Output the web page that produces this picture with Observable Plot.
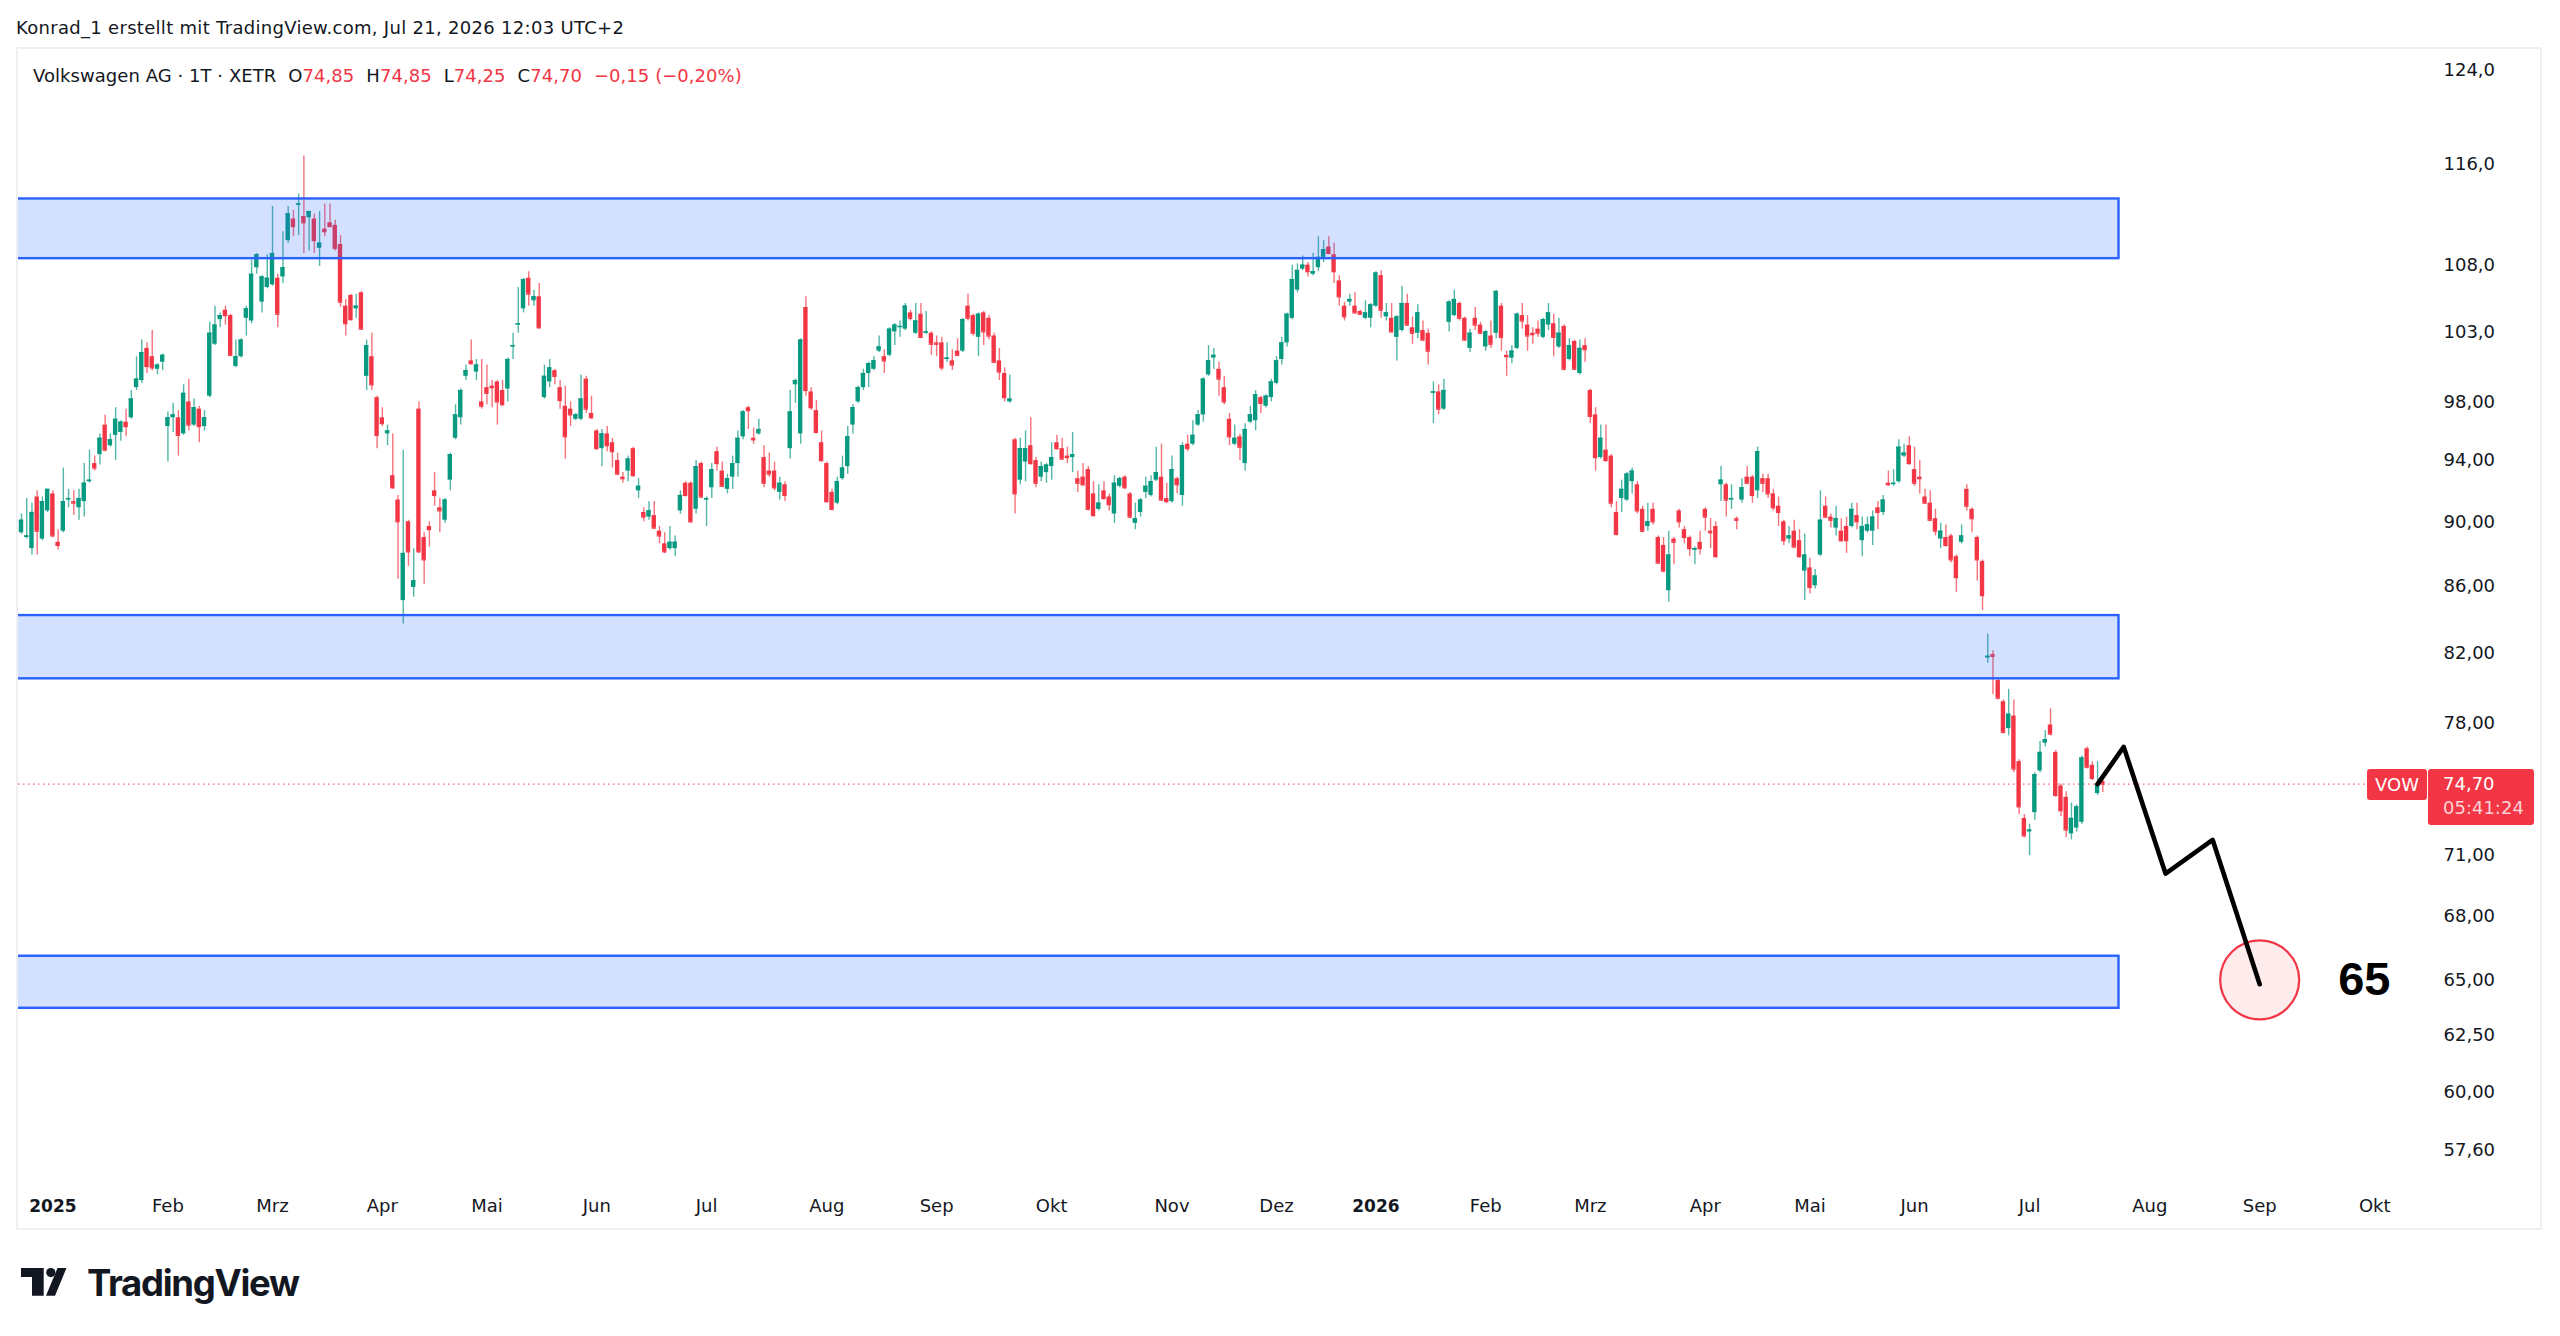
<!DOCTYPE html>
<html><head><meta charset="utf-8">
<script src="https://cdn.jsdelivr.net/npm/d3@7"></script>
<script src="https://cdn.jsdelivr.net/npm/@observablehq/plot@0.6"></script>
<style>
body{margin:0;background:#fff;}
#page{position:relative;width:2560px;height:1336px;overflow:hidden;font-family:"DejaVu Sans",sans-serif;color:#131722;}
#hdr{position:absolute;left:16px;top:17px;font-size:18px;line-height:22px;white-space:nowrap;letter-spacing:0.3px;}
#panel{position:absolute;left:16px;top:47px;width:2526px;height:1183px;border:2px solid #eef0f3;box-sizing:border-box;overflow:hidden;background:#fff;}
#panel svg{position:absolute;left:0;top:0;}
#legend{position:absolute;left:15px;top:16px;font-size:18px;line-height:22px;white-space:nowrap;letter-spacing:0.05px;}
#legend .v{color:#f23645;}
#legend .g{margin-left:12px;}
.lbl{position:absolute;color:#fff;font-size:18px;border-radius:3px;background:#f23645;white-space:nowrap;}
#logo{position:absolute;left:20px;top:1263px;height:40px;}
#logo svg{position:absolute;left:0.7px;top:5px;}
#logo span{position:absolute;left:67px;top:1px;font-family:Inter,sans-serif;font-weight:700;font-size:36.5px;line-height:38px;letter-spacing:-1.3px;color:#131722;}
</style></head>
<body><div id="page">
<div id="hdr">Konrad_1 erstellt mit TradingView.com, Jul 21, 2026 12:03 UTC+2</div>
<div id="panel">
  <div id="legend">Volkswagen AG · 1T · XETR<span class="g">O</span><span class="v">74,85</span><span class="g">H</span><span class="v">74,85</span><span class="g">L</span><span class="v">74,25</span><span class="g">C</span><span class="v">74,70</span><span class="g v">−0,15 (−0,20%)</span></div>
</div>
<div id="logo"><svg width="46" height="28" viewBox="0 0 46 28"><path d="M0,0H22.7V27.7H11V9H0Z" fill="#131722"/><circle cx="29.8" cy="4.6" r="4.6" fill="#131722"/><path d="M36.5,0H45.5L34,27.7H25Z" fill="#131722"/></svg><span>TradingView</span></div>
</div>
<script>
const opens = [
89.3,89.0,88.3,91.6,88.9,90.7,91.8,88.7,89.4,91.4,91.3,90.9,91.3,92.6,93.8,94.4,96.4,95.0,95.7,95.9,
96.6,96.9,99.0,99.5,101.8,101.2,100.3,100.8,96.3,96.9,96.9,95.8,98.0,96.4,97.5,96.3,98.4,102.1,103.9,104.6,
104.2,100.5,101.2,104.0,103.8,107.8,105.2,106.3,106.5,107.0,107.1,109.9,111.6,112.7,111.8,111.7,111.6,109.3,110.8,111.3,
111.1,109.6,104.9,105.7,104.7,105.9,99.8,101.2,98.3,96.9,95.8,93.0,91.4,85.1,90.0,85.9,97.5,89.0,89.7,92.0,
90.9,90.1,92.7,95.5,96.9,99.8,100.9,100.1,98.0,99.0,99.1,99.4,98.8,98.9,101.9,103.5,104.7,107.0,105.3,105.6,
98.3,99.4,100.2,99.0,97.7,97.5,96.8,96.8,99.6,97.2,96.0,94.8,95.8,95.2,94.0,92.9,93.3,94.8,92.0,90.6,
90.3,90.4,89.4,88.6,88.3,88.3,90.7,92.5,92.5,90.8,93.8,91.4,92.2,94.6,93.3,92.1,92.9,93.8,95.6,97.6,
95.5,95.8,94.2,93.3,93.3,91.9,92.4,94.8,99.2,95.8,104.8,98.7,97.4,95.2,93.8,91.9,91.2,92.8,93.6,96.4,
98.0,99.0,100.0,100.3,101.6,101.2,101.3,103.0,103.3,103.2,104.4,102.9,104.3,102.9,102.9,102.2,102.2,101.0,100.9,101.6,
101.6,104.9,104.2,102.6,104.4,104.0,102.7,100.9,100.0,98.0,95.4,92.7,93.9,95.0,94.0,92.9,93.2,93.6,95.2,94.8,
94.3,94.2,92.8,92.9,93.4,91.8,90.8,92.0,91.6,90.5,92.3,92.9,91.8,89.9,90.6,91.9,91.7,92.7,92.9,91.5,
91.3,92.8,91.7,95.1,95.1,96.4,97.1,99.9,101.1,100.3,99.0,96.8,95.1,95.6,93.8,96.6,96.7,98.3,97.7,98.3,
99.3,101.0,102.2,104.0,106.1,107.7,108.0,107.3,107.8,108.6,109.4,108.8,106.8,104.9,105.2,104.9,104.5,104.0,104.0,104.9,
107.2,104.1,104.0,102.6,103.1,105.1,103.3,102.9,103.1,102.9,98.6,98.7,97.5,103.7,104.2,105.1,104.0,101.8,104.0,103.5,
101.9,102.7,102.9,104.9,101.3,101.1,101.8,104.2,103.5,102.9,103.2,102.6,103.5,103.6,101.9,103.4,101.0,102.3,100.0,102.0,
98.8,97.1,94.2,94.7,94.3,90.6,91.5,91.4,92.6,92.4,90.8,89.7,90.8,89.0,88.5,85.7,88.9,90.7,89.5,89.0,
88.2,88.7,90.8,89.4,89.7,92.4,92.4,91.4,90.2,91.4,92.9,92.9,92.0,92.8,92.8,91.8,91.0,90.0,88.9,89.4,
88.8,86.9,87.1,86.0,87.9,91.0,90.3,89.6,89.4,89.7,89.7,90.4,88.8,89.4,89.4,90.9,90.6,92.5,92.4,92.6,
94.3,95.0,93.4,92.9,91.6,91.2,90.2,88.9,89.0,89.1,87.8,88.7,92.1,90.8,89.0,87.5,81.7,81.9,80.4,79.2,
77.7,78.4,75.9,72.9,72.2,73.2,75.4,76.9,77.9,76.4,74.6,74.0,72.1,72.4,72.7,76.6,75.7,74.2,74.85];
const highs = [
90.5,91.5,91.2,92.0,91.6,92.1,92.0,89.5,93.5,92.1,92.0,92.1,93.8,94.7,94.3,95.8,97.1,95.8,97.6,96.7,
97.5,98.8,101.2,102.4,102.2,103.1,100.7,101.4,97.3,97.9,97.4,99.2,99.6,98.2,97.7,97.4,103.7,104.9,104.4,104.9,
104.3,102.4,102.5,104.9,108.4,108.9,107.2,108.8,112.6,107.3,110.6,112.6,112.3,113.6,116.7,112.2,112.0,112.2,112.8,112.8,
111.5,110.3,105.4,105.8,105.8,106.0,102.4,102.9,98.4,97.6,96.4,95.8,91.7,94.7,90.1,88.3,98.0,89.3,90.0,93.2,
91.5,91.5,94.5,97.8,98.9,100.6,102.4,101.0,101.0,100.6,99.5,99.5,99.5,101.1,102.9,106.3,107.0,107.5,106.1,106.6,
100.6,101.0,100.3,99.5,99.1,98.0,97.2,99.9,99.8,98.4,96.1,96.1,96.3,95.5,94.5,93.2,94.3,94.9,92.8,90.9,
91.3,91.3,89.7,89.3,89.7,89.1,92.0,92.6,92.6,94.0,93.9,91.6,93.8,94.9,93.9,93.1,94.3,96.0,97.4,97.7,
96.2,96.8,95.0,94.5,93.9,92.9,92.6,98.8,99.6,102.5,105.6,99.0,98.1,96.0,93.9,92.1,92.9,94.3,96.3,97.8,
99.1,100.3,100.8,101.2,102.7,101.7,103.3,103.6,103.8,105.1,104.6,105.1,105.1,104.5,103.0,102.7,102.6,102.2,101.7,102.5,
104.0,105.8,104.3,104.4,104.5,104.2,102.9,101.8,100.4,99.9,95.5,95.5,96.0,96.9,94.2,93.9,93.8,95.2,95.7,95.5,
94.9,95.9,93.3,93.8,93.6,92.6,92.4,92.6,91.8,93.0,92.9,93.0,91.9,91.2,91.5,92.9,93.0,94.9,95.1,92.5,
94.3,92.9,95.2,95.7,96.7,97.4,99.7,102.0,101.8,100.8,99.8,97.2,96.4,95.8,96.5,97.7,98.8,98.4,98.5,99.6,
101.2,102.6,104.4,108.0,108.1,108.7,108.2,108.9,110.2,109.9,110.2,109.7,107.2,105.2,105.8,105.9,104.6,105.3,105.1,107.5,
107.6,105.1,105.1,104.2,106.4,105.8,104.1,105.0,103.8,103.2,99.4,99.2,99.6,105.3,106.1,105.2,104.1,103.2,104.8,103.7,
103.1,103.8,106.1,105.1,101.6,102.0,104.4,105.1,104.2,103.3,103.8,104.0,105.1,104.3,104.0,103.5,102.5,102.4,102.4,102.5,
98.9,97.6,96.4,96.4,94.4,91.3,92.7,93.2,93.5,92.6,91.0,91.2,91.2,89.1,89.0,89.4,89.0,90.8,89.7,89.1,
88.4,89.4,90.9,90.2,90.0,93.6,92.5,92.4,90.3,92.8,93.6,93.0,94.9,93.1,93.1,92.1,91.6,90.1,89.7,90.1,
89.5,89.2,87.7,87.0,92.0,91.6,90.5,91.0,90.2,90.3,91.2,91.2,90.3,90.3,90.7,91.3,91.7,93.3,93.4,95.4,
95.1,95.6,94.9,94.0,92.1,92.0,90.8,89.9,89.8,89.2,87.9,89.8,92.4,90.9,89.1,87.6,83.1,82.1,80.5,79.3,
79.9,79.3,76.0,73.1,72.6,75.3,77.0,77.6,78.8,76.5,74.7,74.3,73.7,73.6,76.2,76.7,75.9,75.9,74.85];
const lows = [
89.2,88.9,87.9,87.9,88.8,90.6,89.0,88.2,89.3,90.9,90.4,90.1,90.3,92.5,93.3,93.7,94.6,94.9,94.0,95.3,
95.6,96.8,98.8,99.3,100.0,100.2,99.9,100.2,93.9,95.9,94.3,95.7,96.0,96.3,95.2,96.0,98.3,102.0,103.3,103.5,
101.2,100.4,101.1,102.7,103.6,107.3,104.4,106.2,106.4,103.3,106.6,109.7,110.2,110.3,108.9,109.1,108.9,107.9,110.2,110.9,
109.1,104.8,102.7,103.8,104.0,103.1,98.8,98.8,94.8,96.3,95.0,92.1,86.4,83.7,87.2,85.3,88.0,86.1,88.4,91.0,
89.3,89.9,92.0,95.4,96.4,99.5,100.6,99.5,97.5,97.8,97.6,96.4,97.7,98.0,101.0,102.9,104.4,104.9,104.9,103.2,
98.2,99.0,99.2,97.5,94.1,96.3,96.7,96.7,97.2,96.8,94.7,93.6,94.6,93.5,93.0,92.5,92.6,92.9,91.5,90.0,
90.1,89.5,88.6,88.0,88.2,87.8,90.5,91.6,89.9,90.5,91.5,89.7,91.5,93.3,92.2,91.8,92.1,92.9,95.4,96.1,
95.1,95.7,92.2,92.9,92.0,91.4,91.3,94.1,97.9,95.1,98.4,97.4,95.8,93.9,91.2,90.7,91.1,92.7,93.1,95.8,
97.9,98.8,99.0,100.2,101.5,100.0,101.2,102.0,102.6,103.1,103.8,102.8,102.5,102.8,101.3,101.2,100.2,100.8,100.2,101.2,
101.5,103.8,102.7,101.2,102.0,102.4,100.7,99.5,98.0,97.9,90.5,92.4,92.6,93.7,92.2,92.6,92.5,92.7,94.7,94.0,
93.8,93.2,91.9,92.3,90.7,90.3,90.7,91.4,90.7,89.9,92.2,92.1,90.2,89.5,90.3,91.5,91.6,92.6,91.3,91.2,
91.2,91.8,91.0,94.6,95.0,96.3,96.6,99.8,100.3,98.4,97.8,95.0,95.0,94.0,93.3,96.5,96.0,97.2,97.6,98.0,
99.2,100.6,101.9,103.9,105.9,107.6,107.1,107.2,107.5,108.2,108.8,106.6,104.9,103.8,104.9,104.3,104.2,103.9,103.3,104.8,
104.0,103.8,102.9,100.9,103.0,103.4,102.1,102.5,102.3,100.6,96.5,97.1,97.4,103.0,104.1,103.8,102.3,101.5,103.1,102.8,
101.6,101.8,102.5,101.6,99.8,100.7,101.7,103.2,101.6,102.1,102.6,102.5,103.1,101.2,101.8,100.2,100.9,100.2,99.9,100.8,
96.5,93.3,94.1,93.9,90.9,89.1,90.6,91.3,91.8,90.5,89.3,89.4,89.8,87.3,86.8,85.0,87.3,89.6,88.6,87.8,
87.3,87.9,89.4,88.3,87.7,91.3,90.3,90.8,89.5,91.2,92.4,91.2,91.5,91.9,91.5,90.7,89.7,88.5,88.6,88.3,
87.7,85.1,85.5,85.8,87.8,90.2,89.6,89.1,88.7,88.0,89.6,89.5,87.8,89.3,88.5,89.5,90.4,92.3,92.3,92.5,
94.2,93.7,92.3,91.8,91.1,90.0,89.1,88.3,88.4,87.4,85.6,88.6,90.7,89.3,86.3,84.5,81.4,79.6,79.3,77.4,
77.3,75.3,73.1,71.9,71.0,72.8,75.3,76.7,77.3,74.0,73.0,71.9,71.8,72.2,72.6,75.5,74.9,74.1,74.25];
const closes = [
90.1,89.1,90.6,89.4,91.3,92.1,89.1,88.5,91.3,91.5,91.2,91.5,92.5,92.7,93.5,95.5,94.7,95.4,96.8,96.6,
96.3,98.2,99.6,101.5,100.5,100.4,100.6,101.3,96.9,97.1,95.7,98.6,96.4,97.6,96.3,96.9,102.9,103.5,104.2,104.2,
101.3,101.2,102.4,104.7,107.3,108.8,107.1,107.0,108.9,104.3,107.8,112.0,111.0,112.8,111.3,112.2,109.9,109.7,110.6,111.0,
109.3,105.2,103.6,103.9,104.9,103.2,102.0,99.2,95.7,96.5,96.0,92.2,90.0,88.0,88.1,86.3,88.1,87.6,89.5,91.7,
90.7,91.4,94.4,97.1,98.8,100.2,100.7,100.6,97.7,98.6,99.0,98.0,97.8,101.0,102.0,103.6,106.9,105.8,105.6,103.3,
99.8,100.4,99.8,98.1,95.6,97.1,97.1,98.2,97.5,96.9,94.8,95.8,95.0,94.6,93.1,92.8,94.1,93.0,92.3,90.3,
90.7,89.6,89.1,88.1,88.7,88.7,91.7,91.7,90.0,93.6,91.6,91.5,93.4,93.8,92.3,92.8,93.8,95.5,97.3,97.4,
95.4,96.1,92.5,93.1,92.2,92.5,91.7,97.3,99.5,102.4,98.8,97.6,95.9,94.0,91.3,90.8,92.6,93.5,95.6,97.6,
99.0,100.0,100.7,100.9,101.9,100.9,103.2,103.5,103.4,104.9,104.0,103.8,102.6,103.0,102.1,102.1,100.4,101.1,100.6,101.3,
103.9,104.0,102.9,104.3,103.0,102.7,100.8,100.1,98.3,98.2,91.8,94.8,94.8,93.8,92.5,93.6,93.7,94.2,94.8,94.1,
94.2,94.4,92.5,92.4,90.8,90.4,91.2,91.5,91.1,92.5,92.8,92.2,90.3,90.2,91.4,92.3,92.6,93.2,91.4,91.3,
93.4,92.4,95.0,94.8,95.7,97.1,99.6,100.9,101.3,99.6,98.0,95.6,95.5,94.9,96.1,97.1,98.5,97.9,98.4,99.4,
100.9,102.2,104.3,106.9,107.6,108.0,107.5,107.5,108.6,109.2,108.9,107.5,105.6,104.1,105.4,104.4,104.3,104.4,105.0,107.4,
104.6,104.4,103.0,104.1,105.1,103.5,102.9,104.4,102.4,101.6,98.7,97.5,98.8,105.2,105.4,104.0,102.4,102.9,103.5,102.9,
103.0,102.1,106.0,102.6,101.2,101.6,104.3,103.8,102.7,102.8,102.9,103.9,104.4,102.6,102.9,100.3,102.0,100.3,101.8,101.7,
97.0,94.2,95.5,94.0,91.2,89.2,92.1,93.1,93.3,90.7,89.4,90.0,90.0,87.4,86.9,87.9,88.7,90.0,89.0,88.3,
88.3,88.3,90.3,89.3,87.8,92.7,91.4,91.5,90.1,92.2,92.5,91.7,94.6,92.5,91.8,90.9,90.6,88.8,89.1,88.4,
87.8,87.9,85.9,86.6,90.1,90.3,90.1,90.2,88.8,88.8,90.8,90.0,89.7,89.8,90.3,90.6,91.4,92.4,92.5,94.9,
94.5,93.8,92.5,92.8,91.2,90.1,89.4,89.4,88.5,87.6,86.5,89.1,91.0,90.2,87.6,85.4,81.8,81.8,79.4,77.5,
78.5,75.5,73.5,72.0,72.3,75.2,76.4,77.1,77.4,74.1,73.3,72.3,72.9,73.5,76.1,75.6,75.0,74.7,74.70];

const yTickValues = [124, 116, 108, 103, 98, 94, 90, 86, 82, 78, 71, 68, 65, 62.5, 60, 57.6];
const yTickLabels = ["124,0","116,0","108,0","103,0","98,00","94,00","90,00","86,00","82,00","78,00","71,00","68,00","65,00","62,50","60,00","57,60"];
const timeTickBars = [6, 28, 48, 69, 89, 110, 131, 154, 175, 197, 220, 240, 259, 280, 300, 322, 342, 362, 384, 407, 428, 450];
const timeTickLabels = ["2025","Feb","Mrz","Apr","Mai","Jun","Jul","Aug","Sep","Okt","Nov","Dez","2026","Feb","Mrz","Apr","Mai","Jun","Jul","Aug","Sep","Okt"];
const zoneTops = [113.2, 84.2, 66.1];
const zoneBottoms = [108.5, 80.5, 63.7];
const zoneFromBar = -20, zoneToBar = 401.1;
const pathBars = [397, 402, 410, 419, 428];
const pathPrices = [74.7, 76.7, 70.1, 71.8, 64.8];
const targetBar = 428, targetPrice = 65, targetLabel = "65", targetLabelBar = 448;
const lastPrice = 74.70, lastLabel = "74,70", countdown = "05:41:24", ticker = "VOW";

const rows = opens.map((o, i) => ({i, open: o, high: highs[i], low: lows[i], close: closes[i]}));
const col = d => d.close >= d.open ? "#089981" : "#f23645";
const zones = zoneTops.map((t, k) => ({top: t, bottom: zoneBottoms[k]}));
const path = pathBars.map((b, k) => ({i: b, p: pathPrices[k]}));
const yTicks = yTickValues.map((v, k) => ({v, label: yTickLabels[k]}));
const tTicks = timeTickBars.map((b, k) => ({i: b, label: timeTickLabels[k], year: /^\d{4}$/.test(timeTickLabels[k])}));

const chart = Plot.plot({
  width: 2522, height: 1179,
  marginLeft: 0, marginRight: 112, marginTop: 0, marginBottom: 46,
  style: {fontFamily: "DejaVu Sans", fontSize: "18px", background: "transparent", color: "#131722"},
  x: {type: "linear", domain: [0, 398], range: [3, 2084.3], axis: null},
  y: {type: "log", domain: [57.6, 124], range: [1100.5, 21.2], axis: null},
  color: {type: "identity"},
  marks: [
    Plot.ruleY([lastPrice], {stroke: "#f23645", strokeWidth: 1, strokeDasharray: "1.5,3.5", clip: true}),
    Plot.ruleX(rows, {x: "i", y1: "low", y2: "high", stroke: col, strokeWidth: 1.4, strokeOpacity: 0.7, clip: true}),
    Plot.rect(rows, {x1: d => d.i - 0.42, x2: d => d.i + 0.42, y1: "open", y2: "close", fill: col, clip: true}),
    Plot.ruleY(rows, {x1: d => d.i - 0.42, x2: d => d.i + 0.42, y: "close", stroke: col, strokeWidth: 1.2, clip: true}),
    Plot.rect(zones, {x1: () => zoneFromBar, x2: () => zoneToBar, y1: "top", y2: "bottom", fill: "#2962ff", fillOpacity: 0.2, stroke: "#2962ff", strokeWidth: 2.4, clip: true}),
    Plot.dot([{i: targetBar, p: targetPrice}], {x: "i", y: "p", r: 39.5, fill: "#f23645", fillOpacity: 0.1, stroke: "#f23645", strokeWidth: 2.2}),
    Plot.line(path, {x: "i", y: "p", stroke: "#000", strokeWidth: 4.6, strokeLinejoin: "round", strokeLinecap: "round"}),
    Plot.text([{i: targetLabelBar, p: targetPrice, t: targetLabel}], {x: "i", y: "p", text: "t", fontSize: 47, fontWeight: "bold", fontFamily: "Liberation Sans", fill: "#000"}),
    Plot.text(yTicks, {y: "v", text: "label", frameAnchor: "right", dx: 15, textAnchor: "start", fill: "#131722"}),
    Plot.text(tTicks.filter(d => !d.year), {x: "i", text: "label", frameAnchor: "bottom", dy: 29, fill: "#131722"}),
    Plot.text(tTicks.filter(d => d.year), {x: "i", text: "label", frameAnchor: "bottom", dy: 29, fontWeight: "bold", fontSize: 17, fill: "#131722"})
  ]
});
const panel = document.getElementById("panel");
panel.insertBefore(chart, panel.firstChild);

const yPix = chart.scale("y").apply(lastPrice);
const vow = document.createElement("div");
vow.className = "lbl";
Object.assign(vow.style, {left: "2349px", top: (yPix - 15) + "px", width: "60px", height: "31px", lineHeight: "31px", textAlign: "center"});
vow.textContent = ticker;
panel.appendChild(vow);
const pl = document.createElement("div");
pl.className = "lbl";
Object.assign(pl.style, {left: "2410px", top: (yPix - 15) + "px", width: "106px", height: "56px", paddingLeft: "15px", boxSizing: "border-box", paddingTop: "3px", lineHeight: "24px"});
pl.innerHTML = `<div>${lastLabel}</div><div style="color:rgba(255,255,255,0.78)">${countdown}</div>`;
panel.appendChild(pl);
</script>
</body></html>
